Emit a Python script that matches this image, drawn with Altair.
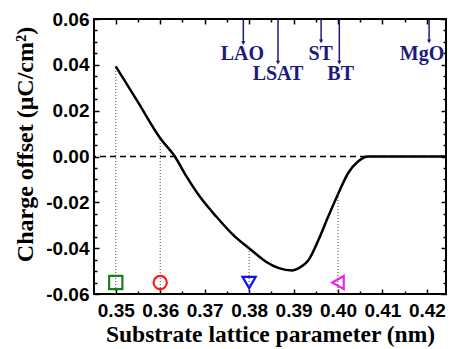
import altair as alt
import pandas as pd

# ---- data ----
curve_x = [0.350, 0.355, 0.360, 0.3633, 0.3659, 0.3689, 0.3726, 0.3764, 0.3804, 0.3837,
           0.3867, 0.3897, 0.3912, 0.3934, 0.3956, 0.3978, 0.4001, 0.4023, 0.4045,
           0.4067, 0.4100, 0.4243]
curve_y = [0.0393, 0.0237, 0.0080, 0.0000, -0.0087, -0.0175, -0.0262, -0.0342, -0.0407, -0.0458,
           -0.0487, -0.0497, -0.0487, -0.0451, -0.0364, -0.0262, -0.0160, -0.0072, -0.0022,
           0.0000, 0.0000, 0.0000]

marker_names = ["square", "circle", "down", "left"]
marker_x = [0.35, 0.36, 0.38, 0.40]
marker_y = [-0.055, -0.055, -0.055, -0.055]
marker_top = [0.0393, 0.0080, -0.0407, -0.0160]

substrates = ["LAO", "LSAT", "ST", "BT", "MgO"]
sub_x = [0.3787, 0.3865, 0.3962, 0.4003, 0.4205]
sub_tip = [0.0495, 0.0410, 0.0502, 0.0410, 0.0502]
label_x = [0.3785, 0.3865, 0.3961, 0.4006, 0.4189]
label_y = [0.0422, 0.0335, 0.0422, 0.0335, 0.0422]

x_major = [0.35, 0.36, 0.37, 0.38, 0.39, 0.40, 0.41, 0.42]
x_minor = [0.355, 0.365, 0.375, 0.385, 0.395, 0.405, 0.415]
y_major = [-0.06, -0.04, -0.02, 0.00, 0.02, 0.04, 0.06]
y_minor = [-0.055, -0.05, -0.045, -0.035, -0.03, -0.025, -0.015, -0.01, -0.005,
           0.005, 0.01, 0.015, 0.025, 0.03, 0.035, 0.045, 0.05, 0.055]

XDOM = [0.3451, 0.4243]
YDOM = [-0.06, 0.06]
NAVY = "#1b1b7e"

curve = pd.DataFrame({"x": curve_x, "y": curve_y})
marks = pd.DataFrame({"name": marker_names, "x": marker_x, "y": marker_y,
                      "top": marker_top, "bottom": [YDOM[0]] * 4})
subs = pd.DataFrame({"name": substrates, "x": sub_x, "tip": sub_tip,
                     "top": [YDOM[1]] * 5, "lx": label_x, "ly": label_y})

xs = alt.Scale(domain=XDOM, nice=False, zero=False)
ys = alt.Scale(domain=YDOM, nice=False, zero=False)

def tick_axis(orient, values, size):
    return alt.Axis(orient=orient, values=values, labels=False, domain=False, grid=False,
                    ticks=True, tickSize=size, offset=-size, tickWidth=1.5,
                    tickColor="black", title=None)

x_main = alt.Axis(orient="bottom", values=x_major, format=".2f", ticks=False, domain=False,
                  grid=False, labelFont="Liberation Sans", labelFontWeight="bold",
                  labelFontSize=19, labelColor="black", labelPadding=7,
                  title="Substrate lattice parameter (nm)", titleFont="Liberation Serif",
                  titleFontSize=23.5, titleFontWeight="bold", titleColor="black",
                  titlePadding=2)
y_main = alt.Axis(orient="left", values=y_major, ticks=False, domain=False, grid=False,
                  labelExpr="(datum.value < -0.0001 ? '-' : '') + format(abs(datum.value), '.2f')",
                  labelFont="Liberation Sans", labelFontWeight="bold", labelFontSize=19,
                  labelColor="black", labelPadding=5,
                  title="Charge offset (μC/cm²)", titleFont="Liberation Serif",
                  titleFontSize=24, titleFontWeight="bold", titleColor="black",
                  titlePadding=8, titleY=125)

base_curve = alt.Chart(curve)

line = base_curve.mark_line(color="black", strokeWidth=2.5, interpolate="monotone").encode(
    x=alt.X("x:Q", scale=xs, axis=x_main),
    y=alt.Y("y:Q", scale=ys, axis=y_main),
)

def ghost(xa, ya):
    return base_curve.mark_point(opacity=0).encode(
        x=alt.X("x:Q", scale=xs, axis=xa),
        y=alt.Y("y:Q", scale=ys, axis=ya),
    )

g1 = ghost(tick_axis("bottom", x_major, 5), tick_axis("left", y_major, 5))
g2 = ghost(tick_axis("bottom", x_minor, 3), tick_axis("left", y_minor, 3))
g3 = ghost(tick_axis("top", x_major, 5), tick_axis("right", y_major, 5))
g4 = ghost(tick_axis("top", x_minor, 3), tick_axis("right", y_minor, 3))

zero = alt.Chart(pd.DataFrame({"y": [0.0]})).mark_rule(
    color="black", strokeWidth=1.5, strokeDash=[6, 4]).encode(
    y=alt.Y("y:Q", scale=ys, axis=None))

drops = alt.Chart(marks).mark_rule(color="#444444", strokeWidth=1, strokeDash=[1, 2]).encode(
    x=alt.X("x:Q", scale=xs, axis=None),
    y=alt.Y("bottom:Q", scale=ys, axis=None),
    y2="top:Q",
)

points = alt.Chart(marks).mark_point(filled=False, strokeWidth=2.2, size=175, opacity=1).encode(
    x=alt.X("x:Q", scale=xs, axis=None),
    y=alt.Y("y:Q", scale=ys, axis=None),
    shape=alt.Shape("name:N", legend=None,
                    scale=alt.Scale(domain=marker_names,
                                    range=["square", "circle", "triangle-down", "triangle-left"])),
    color=alt.Color("name:N", legend=None,
                    scale=alt.Scale(domain=marker_names,
                                    range=["#1e7b1e", "#ff1a1a", "#1010ee", "#ee22ee"])),
)

arrows = alt.Chart(subs).mark_rule(color=NAVY, strokeWidth=1.5).encode(
    x=alt.X("x:Q", scale=xs, axis=None),
    y=alt.Y("top:Q", scale=ys, axis=None),
    y2="tip:Q",
)
heads = alt.Chart(subs).mark_point(shape="triangle-down", filled=True, color=NAVY,
                                   size=18, opacity=1).encode(
    x=alt.X("x:Q", scale=xs, axis=None),
    y=alt.Y("tip:Q", scale=ys, axis=None),
)
labels = alt.Chart(subs).mark_text(font="Liberation Serif", fontWeight="bold", fontSize=20,
                                   color=NAVY, align="center", baseline="alphabetic").encode(
    x=alt.X("lx:Q", scale=xs, axis=None),
    y=alt.Y("ly:Q", scale=ys, axis=None),
    text="name:N",
)

chart = alt.layer(line, g1, g2, g3, g4, zero, drops, points, arrows, heads, labels).resolve_axis(
    x="independent", y="independent"
).properties(
    width=352, height=275,
    autosize=alt.AutoSizeParams(type="none"),
    padding={"left": 86, "top": 11, "right": 1, "bottom": 55},
).configure_view(stroke="black", strokeWidth=2)

chart.save("out.html", embed_options={"renderer": "svg", "actions": False})
